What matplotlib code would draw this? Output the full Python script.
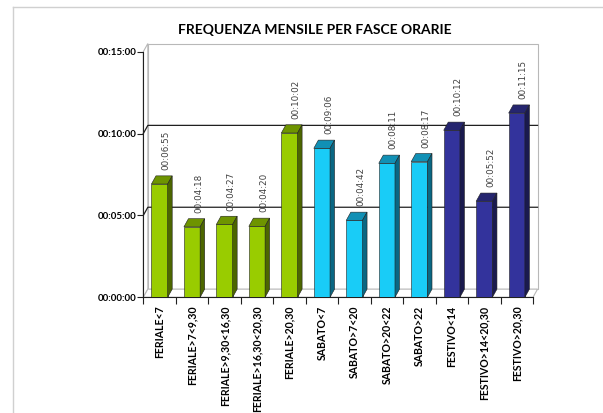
import matplotlib
matplotlib.use("Agg")
import matplotlib.pyplot as plt
from matplotlib.patches import Polygon

# data (minutes)
categories = ["FERIALE<7", "FERIALE>7<9,30", "FERIALE>9,30<16,30", "FERIALE>16,30<20,30",
              "FERIALE>20,30", "SABATO<7", "SABATO>7<20", "SABATO>20<22", "SABATO>22",
              "FESTIVO<14", "FESTIVO>14<20,30", "FESTIVO>20,30"]
value_labels = ["00:06:55", "00:04:18", "00:04:27", "00:04:20", "00:10:02", "00:09:06",
                "00:04:42", "00:08:11", "00:08:17", "00:10:12", "00:05:52", "00:11:15"]
groups = ["feriale"] * 5 + ["sabato"] * 4 + ["festivo"] * 3
y_ticks = [0, 5, 10, 15]


def to_minutes(s):
    h, m, sec = [int(p) for p in s.split(":")]
    return h * 60 + m + sec / 60.0


values = [to_minutes(s) for s in value_labels]

# front, top, side
colors = {
    "feriale": ("#99CC00", "#6E9400", "#4C6600"),
    "sabato": ("#19CCF7", "#1190B5", "#0A6783"),
    "festivo": ("#33339C", "#25256F", "#1A1A4E"),
}

W, H = 603, 413
fig = plt.figure(figsize=(W / 100, H / 100), dpi=100)
ax = fig.add_axes([143.3 / W, 1 - 297.3 / H, 389.7 / W, (297.3 - 51.7) / H])
ax.set_xlim(0, len(categories))
ax.set_ylim(0, 15)

dx, dy = 0.14, 0.5     # 3d depth in data units
bw = 0.5
n = len(categories)
wall = "#B8B8B8"

# back wall, side wall, floor
ax.add_patch(Polygon([(dx, dy), (n + dx, dy), (n + dx, 15 + dy), (dx, 15 + dy)],
                     closed=True, facecolor="white", edgecolor=wall, lw=0.8, clip_on=False, zorder=1))
ax.add_patch(Polygon([(0, 0), (dx, dy), (dx, 15 + dy), (0, 15)],
                     closed=True, facecolor="white", edgecolor=wall, lw=0.8, clip_on=False, zorder=1))
ax.add_patch(Polygon([(0, 0), (n, 0), (n + dx, dy), (dx, dy)],
                     closed=True, facecolor="white", edgecolor=wall, lw=0.8, clip_on=False, zorder=1))

for g in [5, 10]:
    ax.plot([0, dx, n + dx], [g, g + dy, g + dy], color="#202020", lw=0.9, clip_on=False, zorder=2)

# bars
x = [i + 0.5 for i in range(n)]
for xi, v, grp, lab in zip(x, values, groups, value_labels):
    front, top, side = colors[grp]
    x0, x1 = xi - bw / 2, xi + bw / 2
    ax.bar(xi, v, width=bw, color=front, edgecolor="#202020", lw=0.4, zorder=4)
    ax.add_patch(Polygon([(x0, v), (x1, v), (x1 + dx, v + dy), (x0 + dx, v + dy)],
                         closed=True, facecolor=top, edgecolor="#202020", lw=0.4, zorder=4, clip_on=False))
    ax.add_patch(Polygon([(x1, 0), (x1 + dx, dy), (x1 + dx, v + dy), (x1, v)],
                         closed=True, facecolor=side, edgecolor="#202020", lw=0.4, zorder=4, clip_on=False))
    ax.text(xi + 0.2, v + dy + 0.35, lab, rotation=90, ha="center", va="bottom",
            fontsize=6.3, color="#404040", family="DejaVu Sans", zorder=5)

# axes styling
for s in ["top", "right"]:
    ax.spines[s].set_visible(False)
ax.spines["left"].set_color("#202020")
ax.spines["bottom"].set_color("#202020")
ax.spines["left"].set_linewidth(0.8)
ax.spines["bottom"].set_linewidth(0.8)
ax.set_facecolor("none")

ax.set_yticks(y_ticks)
ax.set_yticklabels(["00:%02d:00" % t for t in y_ticks], fontsize=7, fontweight="bold", family="Lato")
ax.tick_params(axis="y", length=4, width=0.8, pad=1, color="#202020")

ax.set_xticks(range(n + 1))
ax.set_xticklabels([])
ax.tick_params(axis="x", which="major", length=5, width=0.8, color="#202020")
ax.set_xticks(x, minor=True)
ax.set_xticklabels(categories, minor=True, rotation=90, fontsize=7.6, fontweight="bold", family="Lato")
ax.tick_params(axis="x", which="minor", length=0, pad=6)

fig.text(315 / W, 1 - 30 / H, "FREQUENZA MENSILE PER FASCE ORARIE", ha="center", va="center",
         fontsize=10, fontweight="bold", family="Lato")

# outer chart frame
fig.add_artist(plt.Line2D([13 / W, 13 / W], [0, 1 - 7 / H], transform=fig.transFigure, color="#D0D0D0", lw=1))
fig.add_artist(plt.Line2D([13 / W, 1], [1 - 7 / H, 1 - 7 / H], transform=fig.transFigure, color="#D0D0D0", lw=1))

fig.savefig("out.png", dpi=100)
